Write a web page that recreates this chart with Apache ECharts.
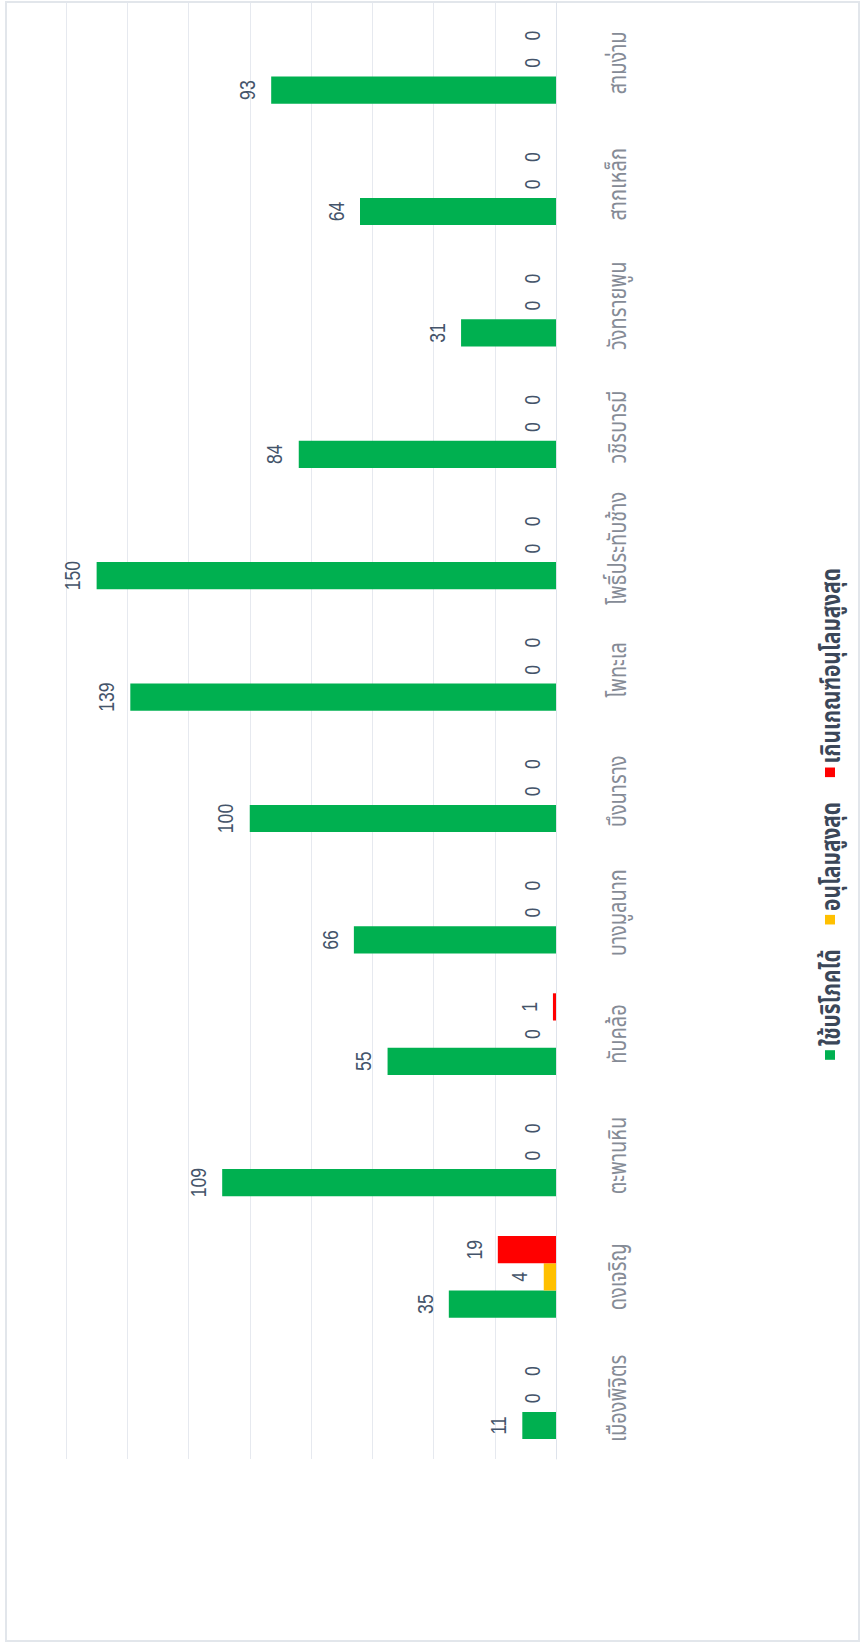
<!DOCTYPE html>
<html>
<head>
<meta charset="utf-8">
<script src="https://cdn.jsdelivr.net/npm/echarts@6/dist/echarts.min.js"></script>
<style>
  html, body { margin: 0; padding: 0; width: 860px; height: 1643px; overflow: hidden; background: #ffffff; }
  #frame { position: absolute; left: 5px; top: 1px; width: 851px; height: 1637px; border: 2px solid #e2e6eb; box-sizing: content-box; }
  #c { position: absolute; left: 0; top: 0; width: 2054px; height: 860px;
       transform-origin: 0 0; transform: translate(0px, 1643px) rotate(-90deg) scaleX(0.8); }
</style>
</head>
<body>
<div id="frame"></div>
<div id="c"></div>
<script>
const categories = ['เมืองพิจิตร', 'ดงเจริญ', 'ตะพานหิน', 'ทับคล้อ', 'บางมูลนาก', 'บึงนาราง', 'โพทะเล', 'โพธิ์ประทับช้าง', 'วชิรบารมี', 'วังทรายพูน', 'สากเหล็ก', 'สามง่าม'];
const seriesNames = ['ใช้บริโภคได้', 'อนุโลมสูงสุด', 'เกินเกณฑ์อนุโลมสูงสุด'];
const usable = [11, 35, 109, 55, 66, 100, 139, 150, 84, 31, 64, 93];
const allowable = [0, 4, 0, 0, 0, 0, 0, 0, 0, 0, 0, 0];
const exceeding = [0, 19, 0, 1, 0, 0, 0, 0, 0, 0, 0, 0];
const valueMin = 0, valueMax = 160, valueInterval = 20;

const FONT = '"Noto Sans", "Noto Sans Thai", "DejaVu Sans", sans-serif';
const colors = ['#00b050', '#ffc000', '#ff0000'];
const chart = echarts.init(document.getElementById('c'), null, { renderer: 'svg' });
const mk = (name, data, color) => ({
  name, type: 'bar', data, barWidth: 34, barGap: '0%',
  itemStyle: { color },
  label: { show: true, position: 'top', distance: 13, color: '#44546a', fontSize: 22, fontFamily: '"Liberation Sans", Arial, sans-serif' }
});
chart.setOption({
  animation: false,
  color: colors,
  grid: { left: 230, right: 3, top: 66, bottom: 304, containLabel: false },
  legend: {
    left: 724, top: 812, itemWidth: 12, itemHeight: 10, itemGap: 31, icon: 'rect',
    textStyle: { color: '#3b4759', fontSize: 26, fontWeight: 'bold', fontFamily: FONT, padding: [0, 0, 0, 0] },
    data: seriesNames
  },
  xAxis: {
    type: 'category', data: categories,
    axisLine: { lineStyle: { color: '#dde2ea', width: 1 } },
    axisTick: { show: false },
    axisLabel: { color: '#858b96', fontSize: 25, fontFamily: FONT, margin: 48, interval: 0 }
  },
  yAxis: {
    type: 'value', min: valueMin, max: valueMax, interval: valueInterval,
    axisLabel: { show: false }, axisLine: { show: false }, axisTick: { show: false },
    splitLine: { lineStyle: { color: '#e3e6ed', width: 1 } }
  },
  series: [
    mk(seriesNames[0], usable, colors[0]),
    mk(seriesNames[1], allowable, colors[1]),
    mk(seriesNames[2], exceeding, colors[2])
  ]
});
</script>
</body>
</html>
